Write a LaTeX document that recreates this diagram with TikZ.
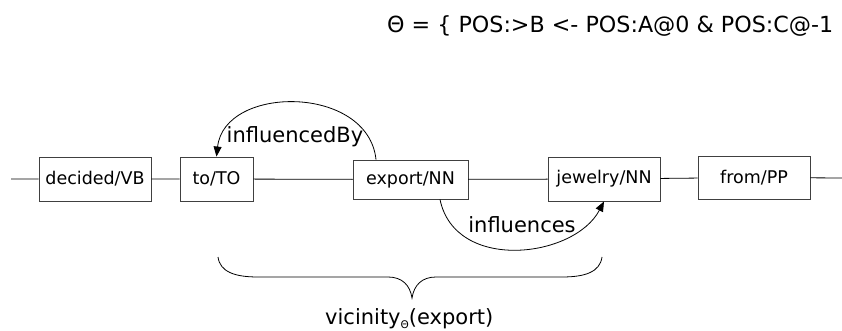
\documentclass[tikz,border=0pt]{standalone}
\usepackage{fontspec}
\setmainfont{DejaVu Sans}
\usetikzlibrary{arrows.meta}

\tikzset{
  tok/.style={draw=black!75,line width=0.9pt,minimum height=44pt,inner sep=0pt,
    font=\fontsize{17.5}{20}\selectfont},
  rel/.style={-{Triangle[length=10pt,width=8pt]},line width=0.8pt},
  lbl/.style={inner sep=0pt,font=\fontsize{21}{24}\selectfont},
}

\begin{document}
\begin{tikzpicture}[x=1pt,y=-1pt]
  \useasboundingbox (0,0) rectangle (842,331);
  \node[anchor=base west,inner sep=0pt,font=\fontsize{22.2}{26}\selectfont] (theta)
    at (387,33) {Θ = \{ POS:>B <- POS:A@0 \& POS:C@-1};

  % token chain
  \coordinate (lft) at (11,179);
  \coordinate (rgt) at (843,178);
  \node[tok,minimum width=112pt] (decided) at (95,179) {decided/VB};
  \node[tok,minimum width=73pt] (to) at (216.5,179) {to/TO};
  \node[tok,minimum width=115pt,minimum height=39pt] (export) at (410.5,179.5) {export/NN};
  \node[tok,minimum width=112pt] (jewelry) at (604,179) {jewelry/NN};
  \node[tok,minimum width=112pt,minimum height=43pt] (from) at (754,177.5) {from/PP};
  \draw[line width=0.8pt] (lft) -- (decided) -- (to) -- (export) -- (jewelry) -- (from) -- (rgt);

  % relations
  \draw[rel] ([xshift=-34.5pt]export.north) .. controls +(-8,-75) and +(8,-72) .. (to.north);
  \node[lbl] (infby) at (295,137) {influencedBy};
  \draw[rel] ([xshift=29.5pt]export.south) .. controls +(15,73) and +(-30,57) .. (jewelry.south);
  \node[lbl] (inf) at (522,225) {influences};

  % vicinity brace
  \draw[line width=0.8pt] (218,257) .. controls (220,272) and (235,277) .. (258,277)
    -- (388,277) .. controls (402,277) and (410,285) .. (412,298)
    .. controls (414,285) and (422,277) .. (436,277)
    -- (562,277) .. controls (585,277) and (600,272) .. (602,257);
  \node[lbl,anchor=base west] (vic) at (325,324)
    {vicinity\raisebox{-0.22em}{\fontsize{10.5}{12}\selectfont Θ}(export)};
\end{tikzpicture}
\end{document}
